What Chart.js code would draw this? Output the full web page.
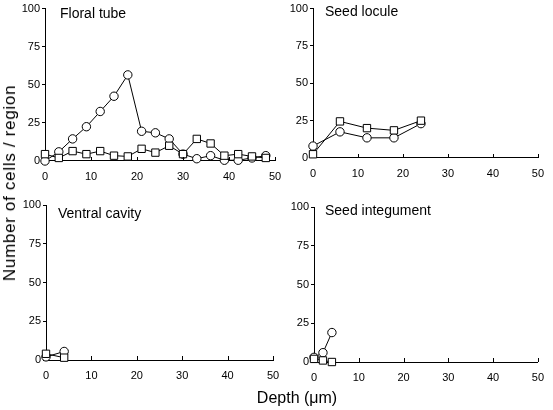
<!DOCTYPE html>
<html>
<head>
<meta charset="utf-8">
<script src="https://cdn.jsdelivr.net/npm/chart.js@4"></script>
<style>
  html, body { margin: 0; padding: 0; background: #fff; }
  #wrap { position: relative; width: 553px; height: 410px; font-family: "Liberation Sans", Arial, sans-serif; color: #000; }
  #wrap canvas { position: absolute; left: 0; top: 0; }
  .lbl { position: absolute; font-size: 14px; line-height: 16px; white-space: nowrap; }
  #ytitle { position: absolute; left: 10px; top: 183px; font-size: 17px; letter-spacing: 0.7px; white-space: nowrap; transform: translate(-50%, -50%) rotate(-90deg); }
  #xtitle { position: absolute; left: 297px; top: 398px; font-size: 16px; white-space: nowrap; transform: translate(-50%, -50%); }
</style>
</head>
<body>
<div id="wrap">
  <canvas id="c1"></canvas>
  <canvas id="c2"></canvas>
  <canvas id="c3"></canvas>
  <canvas id="c4"></canvas>
  <div class="lbl" style="left:60px;top:5px">Floral tube</div>
  <div class="lbl" style="left:325px;top:3px">Seed locule</div>
  <div class="lbl" style="left:58px;top:205px">Ventral cavity</div>
  <div class="lbl" style="left:325px;top:202px">Seed integument</div>
  <div id="ytitle">Number of cells / region</div>
  <div id="xtitle">Depth (&mu;m)</div>
</div>
<script>
// Floral tube
const floralDepth = [0, 3, 6, 9, 12, 15, 18, 21, 24, 27, 30, 33, 36, 39, 42, 45, 48];
const floralCircle = [0, 6, 14.5, 22.5, 32.5, 42.5, 56.5, 19.5, 18.5, 14.5, 4.5, 1.5, 3.5, 0.5, 0.5, 2, 3.5];
const floralSquare = [4.5, 2, 6.5, 4.5, 6.5, 3.5, 3, 8, 5.5, 10, 4.5, 14.5, 11.5, 3.5, 4.5, 3, 2];

// Seed locule
const loculeDepth = [0, 6, 12, 18, 24];
const loculeCircle = [8, 17.5, 13.5, 13.5, 23];
const loculeSquare = [2.5, 24.5, 20, 18.5, 25];

// Ventral cavity
const ventralDepth = [0, 4];
const ventralCircle = [2, 5.5];
const ventralSquare = [4, 1.5];

// Seed integument
const integDepth = [0, 2, 4];
const integCircle = [3, 6, 19];
const integSquare = [2, 1, 0];

const yTicks = [0, 25, 50, 75, 100];
const xTicks = [0, 10, 20, 30, 40, 50];

const W = 553, H = 410;
const YW = 30, XH = 28;

function toPoints(xs, ys) {
  return xs.map((x, i) => ({ x: x, y: ys[i] }));
}

// short tick marks pointing up into the plot on the x axis
const innerTicks = {
  id: "innerTicks",
  afterDraw(chart) {
    const xs = chart.scales.x;
    const ctx = chart.ctx;
    const bottom = chart.chartArea.bottom;
    ctx.save();
    ctx.strokeStyle = "#000";
    ctx.lineWidth = 1;
    xTicks.forEach((v) => {
      if (v === 0) return;
      const px = Math.round(xs.getPixelForValue(v)) + 0.5;
      ctx.beginPath();
      ctx.moveTo(px, bottom);
      ctx.lineTo(px, bottom - 4);
      ctx.stroke();
    });
    ctx.restore();
  },
};

function panel(id, box, depth, circle, square) {
  const canvas = document.getElementById(id);
  canvas.width = W;
  canvas.height = H;
  canvas.style.width = W + "px";
  canvas.style.height = H + "px";
  const ds = (vals, style, r) => ({
    data: toPoints(depth, vals),
    borderColor: "#000",
    borderWidth: 1,
    backgroundColor: "#fff",
    pointStyle: style,
    pointRadius: r,
    pointBorderWidth: 1,
    pointBackgroundColor: "#fff",
    pointBorderColor: "#000",
    clip: false,
    tension: 0,
  });
  new Chart(canvas, {
    type: "line",
    data: { datasets: [ds(square, "rect", 5.2), ds(circle, "circle", 4.2)] },
    plugins: [innerTicks],
    options: {
      responsive: false,
      animation: false,
      events: [],
      layout: {
        padding: { left: box.left - YW, top: box.top, right: W - box.right, bottom: H - box.bottom - XH },
      },
      plugins: { legend: { display: false }, tooltip: { enabled: false } },
      scales: {
        x: {
          type: "linear",
          min: 0,
          max: 50,
          afterFit: (s) => { s.height = XH; },
          afterBuildTicks: (s) => { s.ticks = xTicks.map((v) => ({ value: v })); },
          ticks: { color: "#000", padding: 9, maxRotation: 0, font: { family: "Liberation Sans", size: 11 } },
          grid: { display: true, drawOnChartArea: false, drawTicks: false, color: "#000" },
          border: { display: true, color: "#000", width: 1 },
        },
        y: {
          type: "linear",
          min: 0,
          max: 100,
          afterFit: (s) => { s.width = YW; },
          afterBuildTicks: (s) => { s.ticks = yTicks.map((v) => ({ value: v })); },
          ticks: { color: "#000", padding: 2, font: { family: "Liberation Sans", size: 11 } },
          grid: { display: true, drawOnChartArea: false, drawTicks: true, tickLength: 3, color: "#000" },
          border: { display: true, color: "#000", width: 1 },
        },
      },
    },
  });
}

panel("c1", { left: 45, top: 5, right: 275, bottom: 161 }, floralDepth, floralCircle, floralSquare);
panel("c2", { left: 313, top: 5, right: 544, bottom: 158 }, loculeDepth, loculeCircle, loculeSquare);
panel("c3", { left: 46, top: 205, right: 273, bottom: 360 }, ventralDepth, ventralCircle, ventralSquare);
panel("c4", { left: 314, top: 207, right: 545, bottom: 362 }, integDepth, integCircle, integSquare);
</script>
</body>
</html>
